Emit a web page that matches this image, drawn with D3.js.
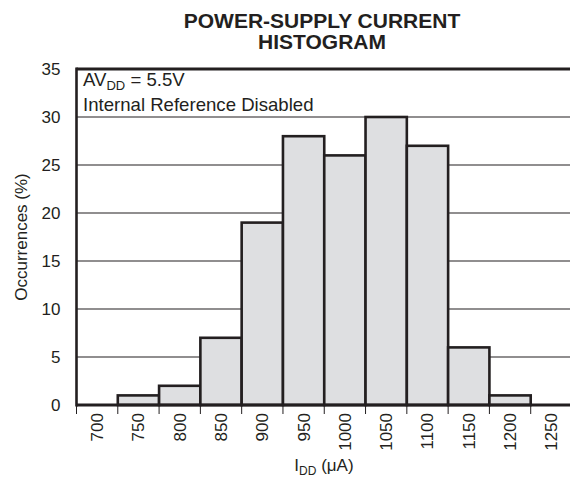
<!DOCTYPE html>
<html><head><meta charset="utf-8">
<script src="https://cdn.jsdelivr.net/npm/d3@7"></script>
<style>
body{margin:0;background:#fff;}
svg{display:block;font-family:"Liberation Sans",Arial,Helvetica,sans-serif;}
</style></head>
<body>
<script>
const binStarts = [700,750,800,850,900,950,1000,1050,1100,1150,1200,1250];
const occurrences = [0,1,2,7,19,28,26,30,27,6,1,0];
const yTicks = [0,5,10,15,20,25,30,35];
const xTickLabels = ["700","750","800","850","900","950","1000","1050","1100","1150","1200","1250"];
const binWidth = 50;

const W=570,H=483;
const m={left:76.5,top:69,bottom:405,right:572};
const svg=d3.select("body").append("svg").attr("width",W).attr("height",H);
const ink="#231f20";
const fs=17;

const x=d3.scaleLinear().domain([700,1300]).range([m.left,m.right]);
const y=d3.scaleLinear().domain([0,35]).range([m.bottom,m.top]);

// gridlines
svg.append("g").selectAll("line").data(yTicks.filter(t=>t>0&&t<35)).join("line")
 .attr("x1",m.left).attr("x2",m.right).attr("y1",d=>y(d)).attr("y2",d=>y(d))
 .attr("stroke",ink).attr("stroke-width",1.2);

// bars
svg.append("g").selectAll("rect").data(binStarts.map((b,i)=>({b,v:occurrences[i]})).filter(d=>d.v>0)).join("rect")
 .attr("x",d=>x(d.b)).attr("width",d=>x(d.b+binWidth)-x(d.b))
 .attr("y",d=>y(d.v)).attr("height",d=>y(0)-y(d.v))
 .attr("fill","#dedfe1").attr("stroke",ink).attr("stroke-width",2.6);

// frame
svg.append("line").attr("x1",m.left).attr("x2",m.right).attr("y1",m.top).attr("y2",m.top).attr("stroke",ink).attr("stroke-width",3);
svg.append("line").attr("x1",m.left).attr("x2",m.left).attr("y1",m.top-1.5).attr("y2",m.bottom+1.5).attr("stroke",ink).attr("stroke-width",2.6);
svg.append("line").attr("x1",m.left).attr("x2",m.right).attr("y1",m.bottom).attr("y2",m.bottom).attr("stroke",ink).attr("stroke-width",3);

// y axis labels
const yAxis=d3.axisLeft(y).tickValues(yTicks).tickSize(0).tickPadding(16);
const gy=svg.append("g").attr("transform",`translate(${m.left},0)`).call(yAxis);
gy.select(".domain").remove();
gy.selectAll("text").attr("font-size",fs).attr("fill",ink).attr("font-family","Liberation Sans, Arial, sans-serif");

// x ticks at bin edges
const edges=binStarts.concat([1300]);
svg.append("g").selectAll("line").data(edges).join("line")
 .attr("x1",d=>x(d)).attr("x2",d=>x(d)).attr("y1",m.bottom).attr("y2",m.bottom+9)
 .attr("stroke",ink).attr("stroke-width",1);

// x labels rotated
svg.append("g").selectAll("text").data(binStarts).join("text")
 .attr("transform",(d,i)=>`translate(${x(d+binWidth/2)+6},413) rotate(-90)`)
 .attr("text-anchor","end").attr("font-size",fs).attr("fill",ink)
 .text((d,i)=>xTickLabels[i]);

// axis titles
svg.append("text").attr("transform","translate(27,237) rotate(-90)").attr("text-anchor","middle")
 .attr("font-size",fs).attr("fill",ink).text("Occurrences (%)");
const xt=svg.append("text").attr("x",324).attr("y",471).attr("text-anchor","middle").attr("font-size",fs).attr("fill",ink);
xt.append("tspan").text("I");
xt.append("tspan").attr("font-size",12).attr("dy",4).text("DD");
xt.append("tspan").attr("dy",-4).text(" (μA)");

// title
svg.append("text").attr("x",322).attr("y",28).attr("text-anchor","middle").attr("font-size",21).attr("font-weight","bold").attr("fill",ink).text("POWER-SUPPLY CURRENT");
svg.append("text").attr("x",322).attr("y",49).attr("text-anchor","middle").attr("font-size",21).attr("font-weight","bold").attr("fill",ink).text("HISTOGRAM");

// annotation
const a1=svg.append("text").attr("x",83).attr("y",86).attr("font-size",18.6).attr("fill",ink);
a1.append("tspan").text("AV");
a1.append("tspan").attr("font-size",13).attr("dy",3.5).text("DD");
a1.append("tspan").attr("dy",-3.5).text(" = 5.5V");
svg.append("text").attr("x",83).attr("y",111).attr("font-size",18.6).attr("fill",ink).text("Internal Reference Disabled");
</script>
</body></html>
